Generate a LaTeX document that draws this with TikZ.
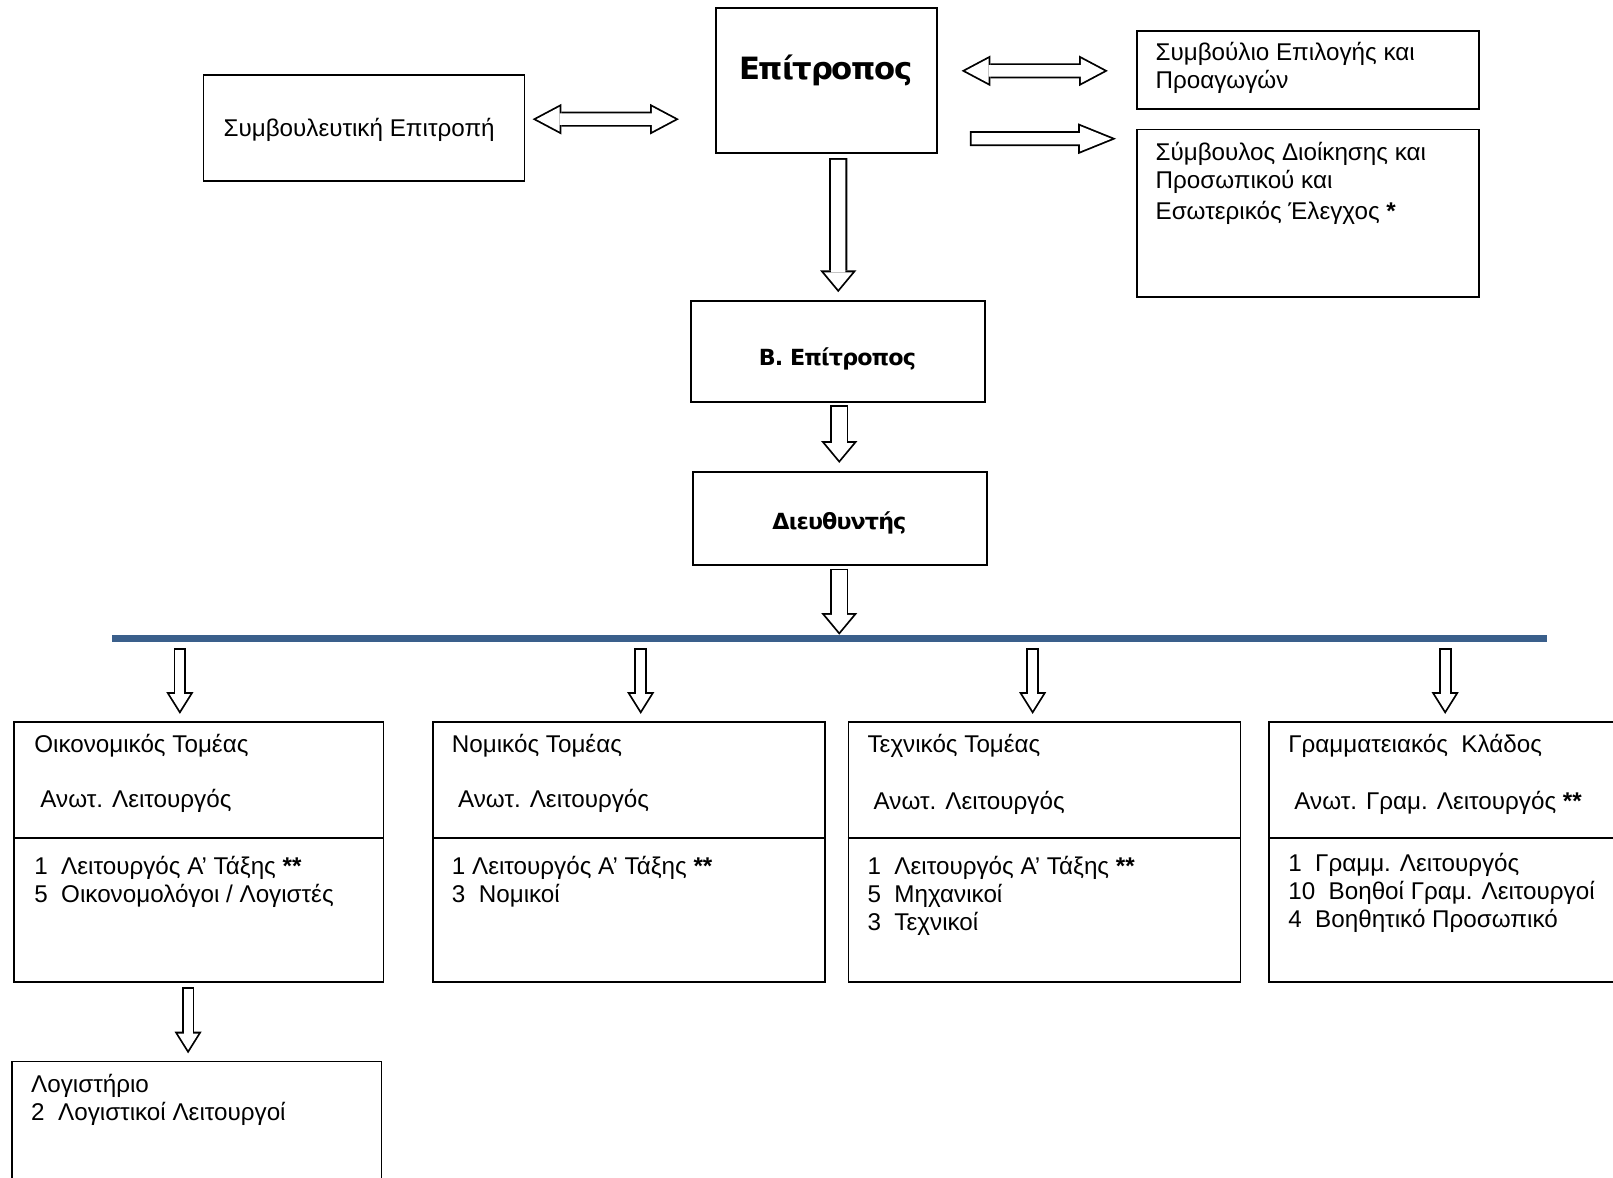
\documentclass[tikz,border=0pt]{standalone}
\usepackage{fontspec}
\setmainfont{Liberation Sans}
\newfontfamily\headfont{DejaVu Sans}[LetterSpace=-4]
\usetikzlibrary{arrows.meta,calc}
\definecolor{bar-color}{HTML}{3A5F8B}

\begin{document}
\begin{tikzpicture}[x=0.02cm, y=-0.02cm,
                every node/.append style={align=left},
                box/.style={draw, line width=1pt, anchor=north west, inner sep=0pt},
                txt/.style={anchor=north west, inner sep=0pt, font=\fontsize{13.4}{15.4}\selectfont, execute at begin node=\strut},
                head/.style={inner sep=0pt, font=\headfont\bfseries\fontsize{12.3}{14}\selectfont},
                bar/.style={draw=bar-color, line width=4pt},
                vblk/.style={line width=10pt, -{Triangle[width=20pt,length=12pt,line width=0pt]},
                    postaction={draw=white, line width=8pt, shorten <=1pt, shorten >=1.56pt,
                        -{Triangle[width=15.7pt,length=9.44pt,line width=0pt]}}},
                sblk/.style={line width=7pt, -{Triangle[width=15pt,length=12pt,line width=0pt]},
                    postaction={draw=white, line width=5pt, shorten <=1pt, shorten >=1.89pt,
                        -{Triangle[width=11.4pt,length=9.1pt,line width=0pt]}}},
                hblk/.style={line width=8.3pt, -{Triangle[width=17pt,length=21pt,line width=0pt]},
                    postaction={draw=white, line width=6.3pt, shorten <=1pt, shorten >=2.67pt,
                        -{Triangle[width=14pt,length=17.3pt,line width=0pt]}}},
                hdblk/.style={line width=8.3pt, {Triangle[width=17pt,length=16pt,line width=0pt]}-{Triangle[width=17pt,length=16pt,line width=0pt]},
                    postaction={draw=white, line width=6.3pt, shorten <=2.13pt, shorten >=2.13pt,
                        {Triangle[width=13.7pt,length=12.9pt,line width=0pt]}-{Triangle[width=13.7pt,length=12.9pt,line width=0pt]}}}]

    \useasboundingbox (0,0) rectangle (1568,1145);

    % top row
    \node [box, minimum width=6.24cm, minimum height=2.06cm] (symep) at (197,72) {};
    \node [box, minimum width=4.30cm, minimum height=2.82cm] (epit) at (695,7) {};
    \node [box, minimum width=6.66cm, minimum height=1.52cm] (symvoulio) at (1104,29) {};
    \node [box, minimum width=6.66cm, minimum height=3.26cm] (symvoulos) at (1104,125) {};
    \node [txt] (symep-t) at (217,113) {Συμβουλευτική Επιτροπή};
    \node [head, font=\headfont\bfseries\fontsize{17}{19}\selectfont] (epit-t) at (803,68) {Επίτροπος};
    \node [txt] (symvoulio-t) at (1123,41) {Συμβούλιο Επιλογής και\\Προαγωγών};
    \node [txt] (symvoulos-t) at (1123,138) {Σύμβουλος Διοίκησης και\\Προσωπικού και\\[2pt]Εσωτερικός Έλεγχος \textbf{*}};

    % middle column
    \node [box, minimum width=5.72cm, minimum height=1.96cm] (bepit) at (671,292) {};
    \node [box, minimum width=5.72cm, minimum height=1.80cm] (dieu) at (673,458) {};
    \node [head] (bepit-t) at (814,349) {Β. Επίτροπος};
    \node [head] (dieu-t) at (816,508) {Διευθυντής};

    \coordinate (bar-w) at (109,621);
    \coordinate (bar-e) at (1504,621);
    \draw [bar] (bar-w) -- (bar-e);

    % sections
    \node [box, minimum width=7.18cm, minimum height=5.06cm] (oikon) at (13,701) {};
    \node [box, minimum width=7.62cm, minimum height=5.06cm] (nomik) at (420,701) {};
    \node [box, minimum width=7.62cm, minimum height=5.06cm] (techn) at (824,701) {};
    \node [box, minimum width=6.90cm, minimum height=5.06cm] (gramm) at (1233,701) {};
    \node [box, minimum width=7.18cm, minimum height=2.60cm] (logist) at (11,1031) {};
    \draw [line width=1pt] ($(oikon.north west)+(0,114)$) -- ($(oikon.north east)+(0,114)$);
    \draw [line width=1pt] ($(nomik.north west)+(0,114)$) -- ($(nomik.north east)+(0,114)$);
    \draw [line width=1pt] ($(techn.north west)+(0,114)$) -- ($(techn.north east)+(0,114)$);
    \draw [line width=1pt] ($(gramm.north west)+(0,114)$) -- ($(gramm.north east)+(0,114)$);

    \node [txt] (oikon-h) at (33,713) {Οικονομικός Τομέας\\[15.4pt]\hspace*{3.4pt}Ανωτ. Λειτουργός};
    \node [txt] (oikon-l) at (33,832) {1\ \ Λειτουργός Α’ Τάξης \textbf{**}\\5\ \ Οικονομολόγοι / Λογιστές};
    \node [txt] (nomik-h) at (439,713) {Νομικός Τομέας\\[15.4pt]\hspace*{3.4pt}Ανωτ. Λειτουργός};
    \node [txt] (nomik-l) at (439,832) {1 Λειτουργός Α’ Τάξης \textbf{**}\\3\ \ Νομικοί};
    \node [txt] (techn-h) at (843,713) {Τεχνικός Τομέας\\[16.4pt]\hspace*{3.4pt}Ανωτ. Λειτουργός};
    \node [txt] (techn-l) at (843,832) {1\ \ Λειτουργός Α’ Τάξης \textbf{**}\\5\ \ Μηχανικοί\\3\ \ Τεχνικοί};
    \node [txt] (gramm-h) at (1252,713) {Γραμματειακός\ \ Κλάδος\\[16.4pt]\hspace*{3.4pt}Ανωτ. Γραμ. Λειτουργός \textbf{**}};
    \node [txt] (gramm-l) at (1252,829) {1\ \ Γραμμ. Λειτουργός\\10\ \ Βοηθοί Γραμ. Λειτουργοί\\4\ \ Βοηθητικό Προσωπικό};
    \node [txt] (logist-t) at (30,1044) {Λογιστήριο\\2\ \ Λογιστικοί Λειτουργοί};

    % arrows
    \draw [hdblk] ($(symep.east)+(7,-8.5)$) -- ($(epit.west)+(-35,37.5)$);
    \draw [hdblk] ($(epit.east)+(23,-9.5)$) -- ($(symvoulio.west)+(-27,1)$);
    \draw [hblk] ($(epit.east)+(31,56.5)$) -- ($(symvoulos.west)+(-19,-72.5)$);
    \draw [vblk] ($(epit.south)+(11.5,4)$) -- ($(bepit.north)+(0,-8)$);
    \draw [vblk] ($(bepit.south)+(1,2)$) -- ($(dieu.north)+(-1,-8)$);
    \draw [vblk] ($(dieu.south)+(-1,3)$) -- ($(dieu.south |- bar-w)+(-1,-4)$);
    \draw [sblk] ($(oikon.north |- bar-w)+(-18.5,9)$) -- ($(oikon.north)+(-18.5,-7)$);
    \draw [sblk] ($(nomik.north |- bar-w)+(11.5,9)$) -- ($(nomik.north)+(11.5,-7)$);
    \draw [sblk] ($(techn.north |- bar-w)+(-11.5,9)$) -- ($(techn.north)+(-11.5,-7)$);
    \draw [sblk] ($(gramm.north |- bar-w)+(-1.5,9)$) -- ($(gramm.north)+(-1.5,-7)$);
    \draw [sblk] ($(oikon.south)+(-10.5,4)$) -- ($(logist.north)+(-8.5,-7)$);
\end{tikzpicture}
\end{document}
